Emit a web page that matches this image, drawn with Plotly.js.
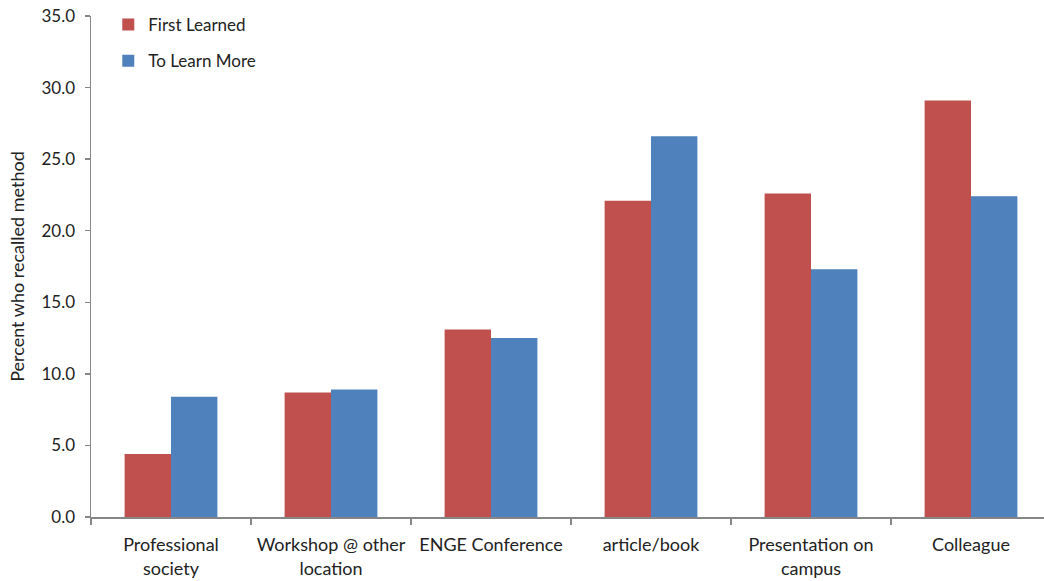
<!DOCTYPE html>
<html><head><meta charset="utf-8">
<script src="https://cdn.plot.ly/plotly-3.0.1.min.js"></script>
<style>html,body{margin:0;padding:0;overflow:hidden;background:#fff;}</style>
</head><body><div id="chart"></div>
<script>
const categories = ["Professional<br>society", "Workshop @ other<br>location", "ENGE Conference", "article/book", "Presentation on<br>campus", "Colleague"];
const firstLearned = [4.4, 8.7, 13.1, 22.1, 22.6, 29.1];
const toLearnMore = [8.4, 8.9, 12.5, 26.6, 17.3, 22.4];
const yTickVals = [0, 5, 10, 15, 20, 25, 30, 35];
const yTickText = ["0.0", "5.0", "10.0", "15.0", "20.0", "25.0", "30.0", "35.0"];

const fam = "Lato, 'Noto Sans', sans-serif";
const font = {family: fam, size: 17, color: "#222"};
const data = [
  {type: "bar", name: "First Learned", legendgroup: "a", x: categories, y: firstLearned, marker: {color: "#C0504D"}},
  {type: "bar", name: "To Learn More", legendgroup: "b", x: categories, y: toLearnMore, marker: {color: "#4F81BD"}}
];
const layout = {
  width: 1055, height: 581,
  margin: {l: 91, r: 4, t: 16, b: 64},
  barmode: "group", bargap: 0.42, bargroupgap: 0,
  font: font,
  paper_bgcolor: "#fff", plot_bgcolor: "#fff",
  showlegend: true,
  legend: {x: 0.018, y: 1.018, xanchor: "left", yanchor: "top", font: font, tracegroupgap: 11, itemwidth: 30,
           bgcolor: "rgba(0,0,0,0)"},
  xaxis: {type: "category", showline: true, linecolor: "#868686", linewidth: 1.5, ticks: "outside", tickson: "boundaries",
          ticklen: 6, tickcolor: "#868686", tickwidth: 1.5, showgrid: false, tickfont: {family: fam, size: 18, color: "#222"},
          ticklabelstandoff: 11, automargin: false},
  yaxis: {range: [0, 35], tickvals: yTickVals, ticktext: yTickText, showline: true, linecolor: "#868686", linewidth: 1.5,
          ticks: "outside", ticklen: 5, tickcolor: "#868686", tickwidth: 1.5, showgrid: false, zeroline: false,
          tickfont: font, ticklabelstandoff: 6, automargin: false,
          title: {text: "Percent who recalled method", font: {family: fam, size: 18, color: "#222"}, standoff: 12}}
};
Plotly.newPlot("chart", data, layout, {displayModeBar: false, staticPlot: true});
</script></body></html>
